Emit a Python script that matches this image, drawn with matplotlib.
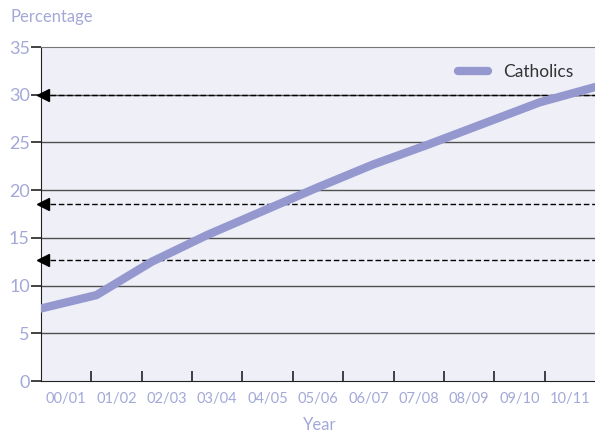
import numpy as np
import matplotlib
matplotlib.use("Agg")
import matplotlib.pyplot as plt

# ── Data ───────────────────────────────────────────────────────────────────────
YEARS      = ["00/01", "01/02", "02/03", "03/04", "04/05", "05/06",
              "06/07", "07/08", "08/09", "09/10", "10/11"]
CATHOLICS  = [7.6, 9.0, 12.5, 15.3, 17.8, 20.3, 22.7, 24.8, 27.0, 29.2, 30.8]
REF_LEVELS = [30.0, 18.5, 12.7]
Y_TICKS    = [0, 5, 10, 15, 20, 25, 30, 35]

# ── Style ──────────────────────────────────────────────────────────────────────
LINE_COL  = "#9498cf"
TEXT_COL  = "#a3a8d8"
BG_COL    = "#efeff7"
GRID_COL  = "#505050"

plt.rcParams["font.family"] = ["Lato", "DejaVu Sans"]

fig = plt.figure(figsize=(5.95, 4.32), dpi=100)
ax = fig.add_axes([41 / 595, 1 - 381 / 432, 554 / 595, (381 - 47) / 432])
ax.set_facecolor(BG_COL)

n = len(YEARS)
ax.set_xlim(-0.5, n - 0.5)
ax.set_ylim(0, 35)

# horizontal gridlines
for y in Y_TICKS[1:-1]:
    ax.axhline(y, color=GRID_COL, lw=1.0, zorder=1)

# dashed reference levels with arrowheads on the left
for lvl in REF_LEVELS:
    ax.plot([0.016, 1.0], [lvl, lvl], transform=ax.get_yaxis_transform(),
            color="black", lw=1.0, ls=(0, (4, 2)), zorder=2)
    ax.plot([0.0045], [lvl], transform=ax.get_yaxis_transform(),
            marker="<", color="black", markersize=9, clip_on=False, zorder=4)

# line spans the full width of the plot
line_x = np.linspace(-0.5, n - 0.5, n)
ax.plot(line_x, CATHOLICS, color=LINE_COL, lw=6, solid_capstyle="round",
        solid_joinstyle="round", label="Catholics", zorder=3)

# axes styling
ax.spines["right"].set_visible(False)
ax.spines["top"].set_color("#777777")
ax.spines["left"].set_color("#222222")
ax.spines["bottom"].set_color("#222222")

ax.set_yticks(Y_TICKS)
ax.set_yticklabels([str(v) for v in Y_TICKS])
ax.tick_params(axis="y", length=7, width=1.2, color="#222222",
               labelcolor=TEXT_COL, labelsize=13, pad=1)

ax.set_xticks(range(n))
ax.set_xticklabels(YEARS)
ax.tick_params(axis="x", which="major", length=0, labelcolor=TEXT_COL,
               labelsize=10.5, pad=8)
ax.set_xticks(np.arange(0.5, n - 1, 1.0), minor=True)
ax.tick_params(axis="x", which="minor", direction="in", length=7,
               width=1.2, color="#222222")

fig.text(10 / 595, 1 - 17 / 432, "Percentage", color=TEXT_COL,
         fontsize=12, va="center", ha="left")
fig.text(320 / 595, 1 - 425 / 432, "Year", color=TEXT_COL,
         fontsize=12, va="center", ha="center")

leg = ax.legend(loc="upper right", frameon=False, fontsize=12.5,
                handlelength=1.7, handletextpad=0.9,
                bbox_to_anchor=(0.99, 0.995))
for t in leg.get_texts():
    t.set_color("#333333")

fig.savefig("out.png", dpi=100, facecolor="white")
